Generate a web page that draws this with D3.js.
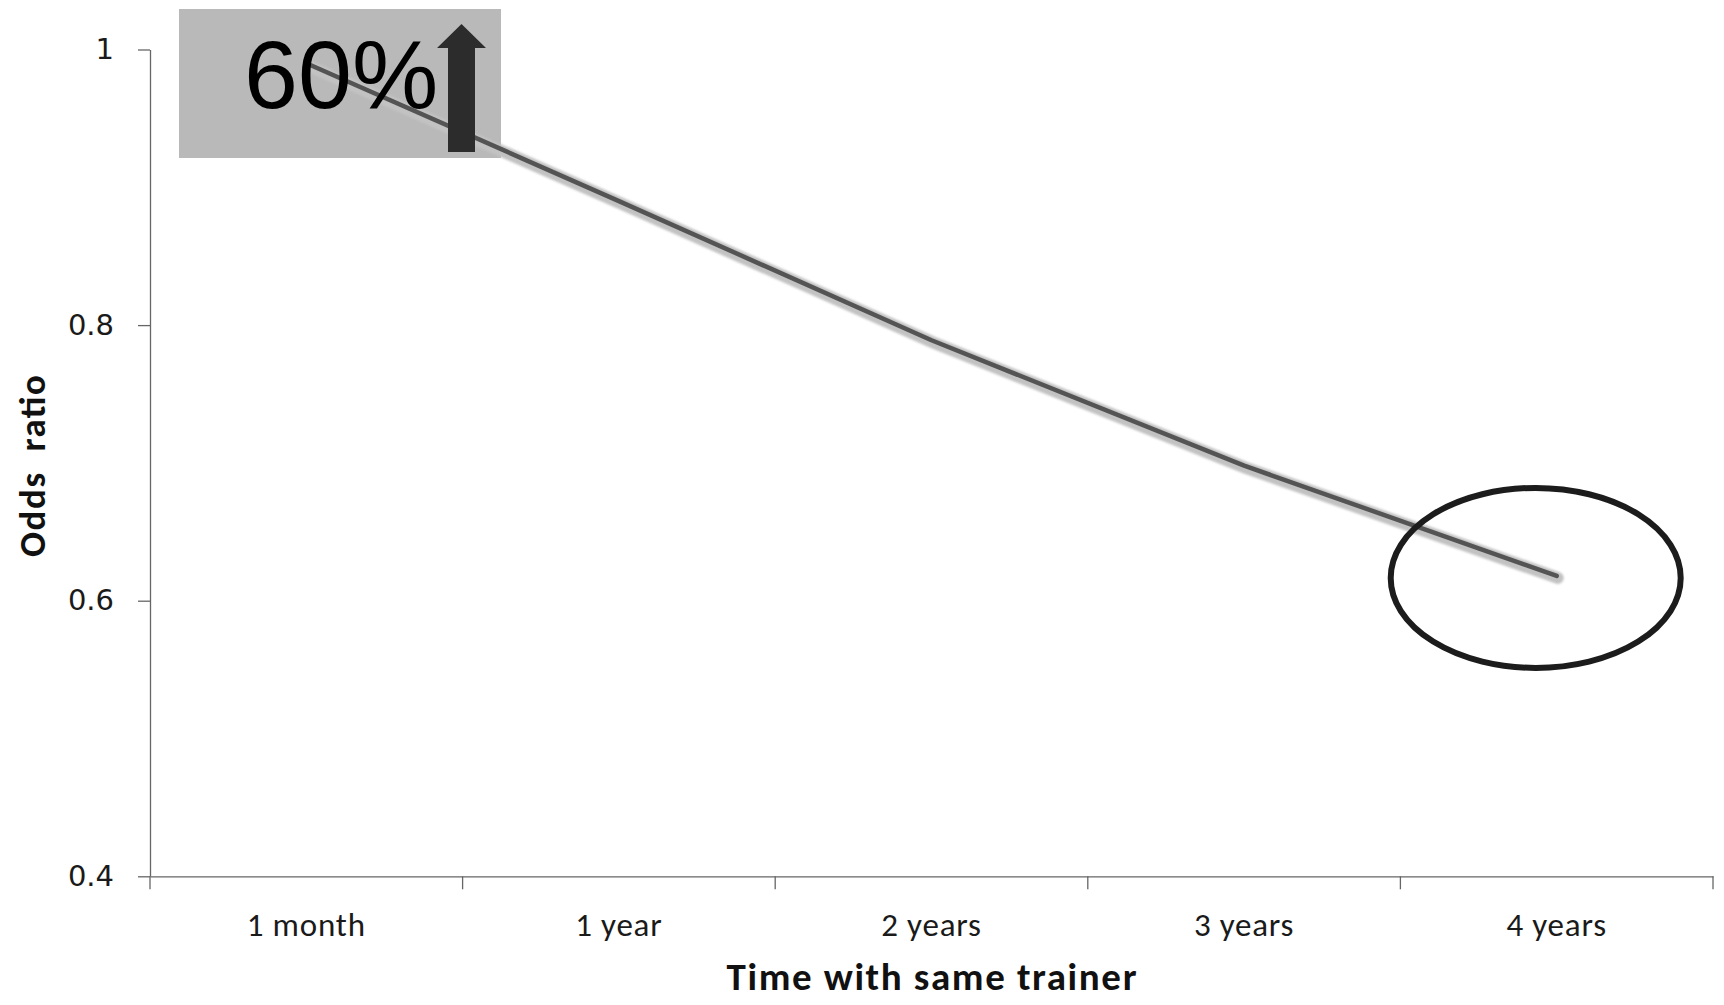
<!DOCTYPE html>
<html>
<head>
<meta charset="utf-8">
<script src="https://cdn.jsdelivr.net/npm/d3@7"></script>
<style>
  html, body { margin: 0; padding: 0; background: #fff; }
  svg { display: block; }
</style>
</head>
<body>
<svg id="chart" width="1724" height="1005"></svg>
<script>
// ---- data ----
const categories = ["1 month", "1 year", "2 years", "3 years", "4 years"];
const oddsRatio = [0.99, 0.890, 0.789, 0.698, 0.618];
const yTicks = [0.4, 0.6, 0.8, 1];
const yTickLabels = ["0.4", "0.6", "0.8", "1"];
const annotationText = "60%";
const xTitle = "Time with same trainer";
const yTitle = "Odds\u00a0\u00a0ratio";

// ---- layout ----
const svg = d3.select("#chart");
const plotLeft = 150, plotRight = 1713, plotTop = 49.5, plotBottom = 876.3;
const labelFont = "Carlito, Lato, 'Open Sans', sans-serif";

const x = d3.scaleBand().domain(categories).range([plotLeft, plotRight]).paddingInner(0).paddingOuter(0);
const y = d3.scaleLinear().domain([0.4, 1]).range([plotBottom, plotTop]);

// annotation box (behind the line)
svg.append("rect")
  .attr("x", 179).attr("y", 9).attr("width", 322).attr("height", 149)
  .attr("fill", "#b9b9b9");

// y axis
const yAxis = d3.axisLeft(y).tickValues(yTicks)
  .tickFormat((d, i) => yTickLabels[i]).tickSize(12).tickSizeOuter(0).tickPadding(24);
const gy = svg.append("g").attr("transform", `translate(${plotLeft},0)`).call(yAxis);
gy.select(".domain").attr("stroke", "#666").attr("stroke-width", 1.3);
gy.selectAll(".tick line").attr("stroke", "#666").attr("stroke-width", 1.3);
gy.selectAll(".tick text")
  .attr("font-family", "'DejaVu Sans', Verdana, sans-serif")
  .attr("font-size", 29).attr("fill", "#1a1a1a");

// x axis
const xAxis = d3.axisBottom(x).tickSize(0).tickPadding(40);
const gx = svg.append("g").attr("transform", `translate(0,${plotBottom})`).call(xAxis);
gx.select(".domain").attr("stroke", "#666").attr("stroke-width", 1.3);
gx.selectAll(".tick text")
  .attr("font-family", labelFont)
  .attr("font-size", 33).attr("fill", "#1a1a1a")
  .attr("dy", null).attr("y", 60)
  .attr("letter-spacing", 0.8);
// boundary ticks between bands
const boundaries = categories.map(c => x(c)).concat([x.range()[1]]);
gx.selectAll(".bound").data(boundaries).enter().append("line")
  .attr("class", "bound")
  .attr("x1", d => d).attr("x2", d => d)
  .attr("y1", 0).attr("y2", 13)
  .attr("stroke", "#666").attr("stroke-width", 1.3);

// axis titles
svg.append("text")
  .attr("x", (plotLeft + plotRight) / 2).attr("y", 990)
  .attr("text-anchor", "middle")
  .attr("font-family", labelFont)
  .attr("font-weight", "bold").attr("font-size", 39).attr("fill", "#111")
  .attr("textLength", 410).attr("lengthAdjust", "spacing")
  .text(xTitle);

svg.append("text")
  .attr("transform", `translate(45,466) rotate(-90)`)
  .attr("text-anchor", "middle")
  .attr("font-family", labelFont)
  .attr("font-weight", "bold").attr("font-size", 37).attr("fill", "#111")
  .attr("textLength", 182).attr("lengthAdjust", "spacing")
  .text(yTitle);

// line with soft shadow
const defs = svg.append("defs");
defs.append("filter").attr("id", "blur").append("feGaussianBlur").attr("stdDeviation", 1);

const lineGen = d3.line()
  .x((d, i) => x(categories[i]) + x.bandwidth() / 2)
  .y(d => y(d));

svg.append("path").datum(oddsRatio)
  .attr("d", lineGen)
  .attr("transform", "translate(1,2)")
  .attr("fill", "none").attr("stroke", "#c2c2c2").attr("stroke-width", 12)
  .attr("stroke-linecap", "round").attr("filter", "url(#blur)");
svg.append("path").datum(oddsRatio)
  .attr("d", lineGen)
  .attr("fill", "none").attr("stroke", "#545454").attr("stroke-width", 4.5)
  .attr("stroke-linecap", "round").attr("stroke-linejoin", "round");

// annotation text and arrow
svg.append("text")
  .attr("x", 244).attr("y", 108)
  .attr("font-family", "'Liberation Sans', Arial, sans-serif")
  .attr("font-size", 97).attr("fill", "#000")
  .text(annotationText);

svg.append("path")
  .attr("d", "M448,152 L448,48 L437,48 L461.5,24 L486,48 L475,48 L475,152 Z")
  .attr("fill", "#2c2c2c");

// ellipse highlighting the last point
const lastX = x(categories[4]) + x.bandwidth() / 2;
svg.append("ellipse")
  .attr("cx", lastX - 21).attr("cy", y(oddsRatio[4]) + 2)
  .attr("rx", 145).attr("ry", 90)
  .attr("fill", "none").attr("stroke", "#1c1c1c").attr("stroke-width", 6);
</script>
</body>
</html>
